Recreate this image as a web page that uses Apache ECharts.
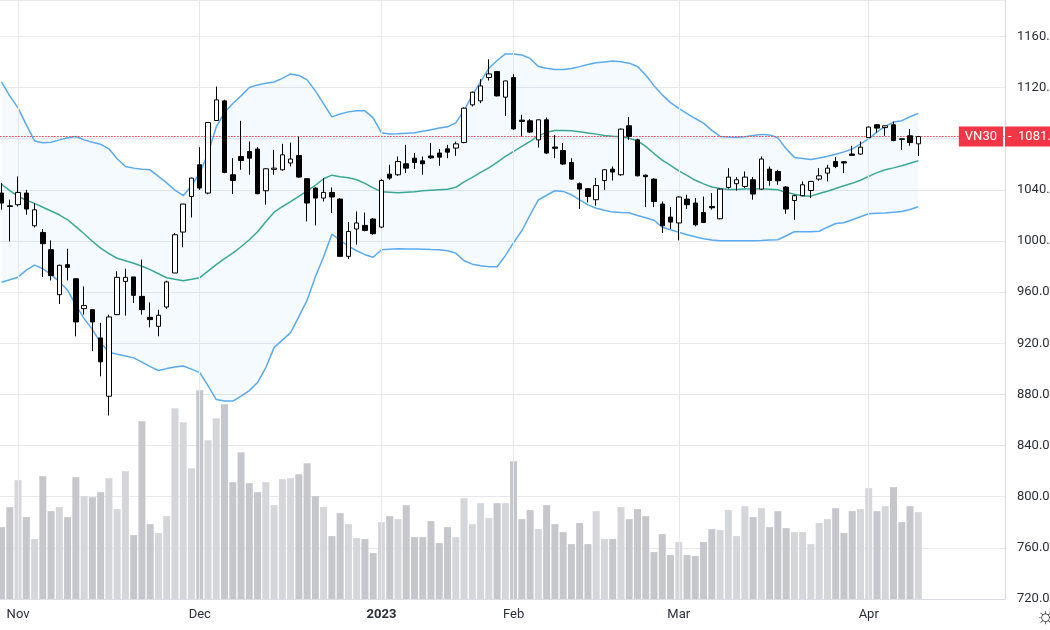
<!DOCTYPE html>
<html>
<head>
<meta charset="utf-8">
<script src="https://cdn.jsdelivr.net/npm/echarts@6.0.0/dist/echarts.min.js"></script>
<style>
  html, body { margin: 0; padding: 0; background: #ffffff; }
  #chart { width: 1050px; height: 630px; }
</style>
</head>
<body>
<div id="chart"></div>
<script>
// trading days shown (VN30 daily)
const dates = [
  '2022-10-28', '2022-10-31',
  '2022-11-01', '2022-11-02', '2022-11-03', '2022-11-04', '2022-11-07', '2022-11-08', '2022-11-09', '2022-11-10',
  '2022-11-11', '2022-11-14', '2022-11-15', '2022-11-16', '2022-11-17', '2022-11-18', '2022-11-21', '2022-11-22',
  '2022-11-23', '2022-11-24', '2022-11-25', '2022-11-28', '2022-11-29', '2022-11-30',
  '2022-12-01', '2022-12-02', '2022-12-05', '2022-12-06', '2022-12-07', '2022-12-08', '2022-12-09', '2022-12-12',
  '2022-12-13', '2022-12-14', '2022-12-15', '2022-12-16', '2022-12-19', '2022-12-20', '2022-12-21', '2022-12-22',
  '2022-12-23', '2022-12-26', '2022-12-27', '2022-12-28', '2022-12-29', '2022-12-30',
  '2023-01-03', '2023-01-04', '2023-01-05', '2023-01-06', '2023-01-09', '2023-01-10', '2023-01-11', '2023-01-12',
  '2023-01-13', '2023-01-16', '2023-01-17', '2023-01-18', '2023-01-19', '2023-01-27', '2023-01-30', '2023-01-31',
  '2023-02-01', '2023-02-02', '2023-02-03', '2023-02-06', '2023-02-07', '2023-02-08', '2023-02-09', '2023-02-10',
  '2023-02-13', '2023-02-14', '2023-02-15', '2023-02-16', '2023-02-17', '2023-02-20', '2023-02-21', '2023-02-22',
  '2023-02-23', '2023-02-24', '2023-02-27', '2023-02-28',
  '2023-03-01', '2023-03-02', '2023-03-03', '2023-03-06', '2023-03-07', '2023-03-08', '2023-03-09', '2023-03-10',
  '2023-03-13', '2023-03-14', '2023-03-15', '2023-03-16', '2023-03-17', '2023-03-20', '2023-03-21', '2023-03-22',
  '2023-03-23', '2023-03-24', '2023-03-27', '2023-03-28', '2023-03-29', '2023-03-30', '2023-03-31',
  '2023-04-03', '2023-04-04', '2023-04-05', '2023-04-06', '2023-04-07', '2023-04-10', '2023-04-11'
];
// empty room on the right of the last bar
const futureDates = [
  '2023-04-12', '2023-04-13', '2023-04-14', '2023-04-17', '2023-04-18',
  '2023-04-19', '2023-04-20', '2023-04-21', '2023-04-24', '2023-04-25'
];
const monthLabels = {
  '2022-11-01': 'Nov', '2022-12-01': 'Dec', '2023-01-03': '2023',
  '2023-02-01': 'Feb', '2023-03-01': 'Mar', '2023-04-03': 'Apr'
};

const opens = [
  1037.5, 1027.5, 1028.4, 1037.5, 1011.9, 1006.7, 993.2, 958, 981.5, 970.5,
  947.1, 946.3, 924.2, 878.6, 942.4, 968.4, 971.9, 956.7, 940.3, 933.3,
  948.4, 975, 1007, 1034.8, 1059.6, 1037.5, 1094.2, 1109.6, 1051.8, 1066.1,
  1070, 1071.9, 1039.3, 1056, 1055.7, 1061, 1066.9, 1048.7, 1041.4, 1033.6,
  1038, 1032.8, 988, 1009.4, 1012.2, 1017.2, 1010.9, 1052.3, 1051.8, 1060.4,
  1064.8, 1062.7, 1066.5, 1068.8, 1072.1, 1072.7, 1077, 1106.5, 1109.6, 1127.8,
  1132.5, 1112.5, 1127.8, 1094.5, 1094, 1079.1, 1094.8, 1073.5, 1070.8, 1061.4,
  1044.8, 1040.9, 1032.3, 1047.3, 1056.2, 1051.8, 1090.1, 1079.1, 1051.5, 1048.4,
  1028.9, 1018.7, 1014.1, 1032.8, 1029.7, 1022.3, 1027, 1017.4, 1041.9, 1044.8,
  1042.7, 1047.9, 1040.6, 1056.2, 1054.4, 1042.2, 1031.7, 1035.4, 1039.5, 1048.4,
  1053.1, 1062.2, 1062, 1068, 1068, 1080.9, 1090.9, 1088.7, 1090.9, 1079.9,
  1082.3, 1076
];
const closes = [
  1029.7, 1027, 1038, 1025, 1024.4, 997.9, 972.9, 981, 979.4, 936.7,
  949.5, 936.7, 905.5, 940.6, 971.6, 971.6, 957.5, 946.3, 938.5, 941.9,
  968, 1004.9, 1028.9, 1049.2, 1041.4, 1092.7, 1110.4, 1053.6, 1047.3, 1063,
  1064.8, 1037, 1056.5, 1057, 1067.4, 1064.1, 1050, 1029.7, 1033.6, 1038,
  1034.4, 988, 1007.5, 1014.1, 1008.3, 1005.7, 1047.3, 1049.2, 1062.2, 1057,
  1061.4, 1060.4, 1065, 1065.6, 1069.5, 1076, 1103.9, 1116.4, 1121.3, 1130.7,
  1113.5, 1125.2, 1087.7, 1093.5, 1085.2, 1094.8, 1068.8, 1072.5, 1060.2, 1048.4,
  1040.6, 1034.8, 1043.4, 1055.7, 1053.9, 1087.5, 1081.7, 1051, 1050.3, 1030.9,
  1011.9, 1014.8, 1034.4, 1028.4, 1012.7, 1014.5, 1026, 1040.6, 1050, 1047.9,
  1050, 1036.7, 1064.1, 1047.3, 1047.1, 1025, 1035.4, 1044, 1046.6, 1051,
  1057, 1058.3, 1061, 1067, 1073.4, 1089.1, 1088.3, 1090.1, 1078.6, 1079.5,
  1077, 1081.7
];
const lows = [
  1024.5, 999.7, 1027, 1020.5, 1010.6, 971.9, 969.2, 950.8, 969.2, 925.5,
  942.4, 913.8, 894.2, 863.5, 942, 941.6, 951.6, 942.4, 932.5, 925.5,
  947, 975, 995, 1018.4, 1040, 1036.5, 1094, 1053, 1036.7, 1055.7,
  1051.8, 1036.5, 1028.4, 1051.8, 1055, 1058.3, 1049.5, 1015.3, 1012.2, 1030.9,
  1021.9, 987.5, 985.9, 997.1, 1007.5, 1005, 1010, 1047.9, 1051, 1053.1,
  1056.3, 1051.8, 1064.1, 1058.8, 1064.8, 1066.6, 1076.5, 1105.2, 1107.8, 1125.5,
  1113, 1097.9, 1087, 1081.7, 1084.4, 1073.1, 1068, 1064.8, 1059.5, 1048,
  1025, 1030.2, 1027.6, 1040, 1047.3, 1051, 1079.1, 1050.5, 1026.6, 1026.6,
  1006.3, 1009.4, 1000.5, 1025, 1011.4, 1014, 1024.5, 1017, 1041, 1039.5,
  1041.4, 1032.3, 1040, 1043.2, 1044, 1021.3, 1016.6, 1035, 1033.6, 1047.1,
  1046.6, 1057, 1053.1, 1067, 1067.5, 1080.5, 1084.8, 1082.3, 1078, 1071.3,
  1074.5, 1066.6
];
const highs = [
  1045.5, 1032.3, 1050.5, 1040, 1029.7, 1009.4, 1000.5, 981.5, 994, 970.5,
  964.5, 946.3, 936, 942.4, 976.3, 978.4, 971.9, 985.4, 952, 946.3,
  969, 1006.3, 1029, 1049.5, 1073.4, 1093, 1120.8, 1110.5, 1064.8, 1094,
  1077.8, 1073.4, 1057, 1071.3, 1076, 1077, 1081.7, 1049, 1042, 1049.2,
  1041.9, 1033.5, 1014.8, 1023.1, 1022.3, 1018, 1048.4, 1059.6, 1066.1, 1075.2,
  1068.8, 1066.1, 1076.6, 1071.9, 1075.2, 1077.8, 1104.5, 1116.9, 1126.6, 1142.2,
  1133, 1125.5, 1130.5, 1098.7, 1095.3, 1095, 1096.6, 1083, 1076.6, 1064.8,
  1045.8, 1041.4, 1049.2, 1056.2, 1058.3, 1088, 1096.9, 1080, 1052, 1049,
  1030.9, 1026.6, 1035, 1036.2, 1033.6, 1034.8, 1037.5, 1041, 1057, 1050,
  1054.4, 1050, 1066.1, 1058.3, 1055.7, 1043, 1036.2, 1046.6, 1047, 1057,
  1059.6, 1065.6, 1062.5, 1074.5, 1077.8, 1089.5, 1091.5, 1090.5, 1093.4, 1080.2,
  1087.5, 1082.2
];
// volume, relative units (overlay, own hidden scale)
const volumes = [
  72, 92, 119, 82, 60, 123, 88, 92, 82, 122,
  103, 102, 107, 121, 90, 128, 64, 178, 75, 66,
  83, 191, 177, 131, 209, 159, 181, 195, 117, 147,
  116, 107, 117, 94, 120, 121, 125, 136, 103, 92,
  63, 86, 75, 61, 60, 46, 77, 83, 80, 94,
  62, 62, 78, 56, 72, 62, 101, 75, 96, 81,
  96, 96, 138, 80, 89, 70, 94, 75, 67, 55,
  76, 55, 88, 60, 60, 92, 80, 90, 83, 47,
  65, 44, 57, 44, 43, 57, 70, 69, 89, 63,
  93, 82, 91, 72, 88, 71, 67, 67, 55, 76,
  80, 91, 66, 88, 90, 111, 88, 93, 112, 77,
  93, 87
];
// Bollinger bands (20, 2)
const bbUpper = [
  1124.5, 1113.5, 1104.1, 1090.8, 1078.3, 1076.8, 1077.2, 1079.1, 1080.7, 1081.7,
  1079.1, 1077.2, 1075.6, 1072.1, 1064.3, 1058.3, 1057, 1056.2, 1055.7, 1050.6,
  1045.5, 1039.7, 1035.4, 1043.2, 1053.3, 1068.2, 1089.3, 1100.6, 1107.6, 1113.5,
  1120.1, 1122.1, 1123.3, 1124.4, 1127.2, 1130.7, 1129.5, 1126, 1117.4, 1107.2,
  1097.1, 1099.4, 1101, 1101.8, 1101.8, 1096.3, 1084.6, 1083.7, 1083.8, 1084.2,
  1084.6, 1085.9, 1087.1, 1088.3, 1089.3, 1092.4, 1102.2, 1113.9, 1124.4, 1135,
  1141.2, 1146.3, 1146.2, 1145.5, 1142.8, 1136.5, 1135.2, 1134.2, 1134.2, 1135,
  1136.4, 1138.1, 1139.4, 1140.1, 1140.7, 1140.2, 1139.1, 1136.5, 1129.9, 1121.5,
  1114.3, 1108.2, 1103.7, 1099.7, 1095.8, 1092.2, 1086.5, 1081.8, 1081.3, 1081.2,
  1081.5, 1082.5, 1083.4, 1083, 1080.7, 1072.1, 1065.4, 1064.6, 1063.7, 1064.9,
  1066.3, 1067.8, 1069.7, 1071.9, 1076, 1079.9, 1085.4, 1089.7, 1093, 1094.1,
  1097.2, 1099.8
];
const bbBasis = [
  1044.4, 1039.4, 1035, 1031.9, 1029.4, 1026.4, 1023.5, 1020.5, 1016.6, 1011.2,
  1005.7, 999.8, 994.4, 990.1, 986.5, 984.6, 982.6, 980.3, 977.6, 974.4,
  971.3, 970.1, 969, 970.1, 971.3, 976.4, 981.5, 986.2, 990.5, 995.5,
  1001, 1007.2, 1015.1, 1022.5, 1026.8, 1030.8, 1035, 1039.3, 1043.6, 1048.7,
  1051.5, 1050.2, 1049.4, 1047.9, 1045.1, 1041.6, 1038.5, 1038.1, 1037.7, 1038.1,
  1038.5, 1039.3, 1039.7, 1040.1, 1040.5, 1042, 1046.3, 1049.8, 1053.7, 1057.2,
  1061.5, 1066.2, 1070.1, 1074, 1078, 1082.2, 1085, 1086.5, 1086.5, 1086.2,
  1085.4, 1084.4, 1083.6, 1082.6, 1082, 1081.5, 1080.3, 1078.3, 1074, 1068.4,
  1063.3, 1059.2, 1054.9, 1051.4, 1047.5, 1044.7, 1042.2, 1041.1, 1040.3, 1040.3,
  1040.7, 1040.8, 1040.8, 1040.5, 1040.1, 1038.1, 1036.5, 1035.4, 1035.1, 1037.2,
  1038.9, 1041.1, 1043.2, 1045.1, 1047.5, 1050.5, 1053.5, 1055.7, 1057.2, 1058.8,
  1060.8, 1062.7
];
const bbLower = [
  967.8, 969.7, 971.7, 977.2, 981.1, 978.3, 973.7, 968.2, 961.5, 949.8,
  939.3, 930.7, 920.5, 913.1, 911.5, 910.1, 908.6, 905.3, 901.8, 898.7,
  900.2, 901.4, 902.2, 899.8, 897.1, 886.9, 876, 874.8, 874.8, 878.7,
  883, 889.3, 901, 916.6, 922.5, 928.3, 940.8, 953.7, 972.1, 987.7,
  1005.3, 1000.6, 995.9, 992.4, 989.3, 987.3, 993.2, 993.6, 994, 993.8,
  993.7, 993.6, 993.3, 993.2, 992.4, 990.5, 984.6, 981.9, 980.7, 979.9,
  979.9, 988.5, 998.7, 1008, 1020.5, 1032.2, 1035.8, 1039.3, 1038.8, 1036.2,
  1032.2, 1028.3, 1025.6, 1024, 1022.6, 1022.3, 1022.1, 1019.9, 1018.2, 1016.2,
  1010.8, 1008.8, 1006.9, 1004.9, 1003.3, 1001.8, 1000.8, 1000.2, 1000.2, 1000.2,
  1000.2, 1000.2, 1000.4, 1000.7, 1001, 1004.1, 1007.2, 1007.2, 1007.2, 1007.6,
  1010.8, 1013.7, 1014.3, 1016.6, 1019, 1021.3, 1021.7, 1021.9, 1022.5, 1023.1,
  1024.7, 1026.8
];
const symbolName = 'VN30';
const lastPrice = closes[closes.length - 1];

const textColor = '#2a2e39';
const gridColor = '#e6e8ee';
const bandBlue = '#5aaaf0';
const basisTeal = '#3aa896';

const candles = opens.map((o, i) => [o, closes[i], lows[i], highs[i]]);
const volBars = volumes.map((v, i) => ({
  value: v,
  itemStyle: { color: closes[i] >= opens[i] ? '#d5d6da' : '#c6c7cc' }
}));
const bandWidth = bbUpper.map((u, i) => +(u - bbLower[i]).toFixed(2));
const monthLines = Object.keys(monthLabels).map(d => ({ xAxis: d }));

const chart = echarts.init(document.getElementById('chart'));
chart.setOption({
  animation: false,
  backgroundColor: '#ffffff',
  textStyle: { fontFamily: 'Roboto, "Open Sans", sans-serif' },
  grid: { left: -2.6, right: 45, top: 0, bottom: 31, outerBoundsMode: 'none', containLabel: false },
  xAxis: {
    type: 'category',
    data: dates.concat(futureDates),
    boundaryGap: true,
    axisLine: { lineStyle: { color: '#d9dce3' } },
    axisTick: { show: false },
    splitLine: { show: false },
    axisLabel: {
      color: textColor,
      fontSize: 13,
      margin: 9,
      interval: (idx, val) => monthLabels[val] !== undefined,
      formatter: val => monthLabels[val] === '2023' ? '{y|2023}' : (monthLabels[val] || ''),
      rich: { y: { fontWeight: 'bold', fontSize: 13, color: textColor } }
    }
  },
  yAxis: [
    {
      type: 'value',
      position: 'right',
      min: 720,
      max: 1188.5,
      interval: 40,
      axisLine: { show: true, lineStyle: { color: '#d9dce3' } },
      axisTick: { show: false },
      splitLine: { lineStyle: { color: gridColor } },
      axisLabel: {
        color: textColor,
        fontSize: 13,
        margin: 12,
        formatter: v => (Math.abs(v % 40) < 1e-6 ? v.toFixed(1) : '')
      }
    },
    { type: 'value', min: 0, max: 600, show: false }
  ],
  series: [
    {
      name: 'bbBase',
      type: 'line',
      data: bbLower,
      stack: 'bb',
      symbol: 'none',
      silent: true,
      lineStyle: { opacity: 0 },
      z: 1,
      markLine: {
        silent: true,
        symbol: ['none', 'none'],
        label: { show: false },
        lineStyle: { color: gridColor, type: 'solid', width: 1 },
        data: monthLines
      }
    },
    {
      name: 'bbFill',
      type: 'line',
      data: bandWidth,
      stack: 'bb',
      symbol: 'none',
      silent: true,
      lineStyle: { opacity: 0 },
      areaStyle: { color: 'rgba(33,150,243,0.06)' },
      z: 1
    },
    {
      name: 'Volume',
      type: 'bar',
      yAxisIndex: 1,
      data: volBars,
      barWidth: 7,
      z: 2
    },
    {
      name: 'Upper',
      type: 'line',
      data: bbUpper,
      symbol: 'none',
      lineStyle: { color: bandBlue, width: 1.5 },
      z: 3
    },
    {
      name: 'Lower',
      type: 'line',
      data: bbLower,
      symbol: 'none',
      lineStyle: { color: bandBlue, width: 1.5 },
      z: 3
    },
    {
      name: 'Basis',
      type: 'line',
      data: bbBasis,
      symbol: 'none',
      lineStyle: { color: basisTeal, width: 1.5 },
      z: 3
    },
    {
      name: symbolName,
      type: 'candlestick',
      data: candles,
      barWidth: 5,
      z: 5,
      itemStyle: {
        color: '#ffffff',
        color0: '#000000',
        borderColor: '#000000',
        borderColor0: '#000000',
        borderColorDoji: '#000000',
        borderWidth: 1
      },
      markLine: {
        silent: true,
        symbol: ['none', 'none'],
        lineStyle: { color: '#f23645', type: [1, 2], width: 1 },
        data: [
          {
            yAxis: lastPrice,
            label: {
              position: 'end',
              distance: 0,
              formatter: '-  ' + lastPrice.toFixed(2),
              color: '#ffffff',
              fontSize: 13,
              lineHeight: 14,
              backgroundColor: '#f23645',
              padding: [3, 6, 3, 3]
            }
          },
          {
            yAxis: lastPrice,
            label: {
              position: 'insideEnd',
              distance: 2,
              formatter: symbolName,
              color: '#ffffff',
              fontSize: 13,
              lineHeight: 14,
              backgroundColor: '#f23645',
              padding: [3, 6, 3, 6]
            }
          }
        ]
      }
    }
  ],
  graphic: [
    {
      type: 'text',
      right: -6,
      bottom: 2,
      style: { text: '\u263C', fontSize: 22, fill: '#333333' }
    }
  ]
});
</script>
</body>
</html>
